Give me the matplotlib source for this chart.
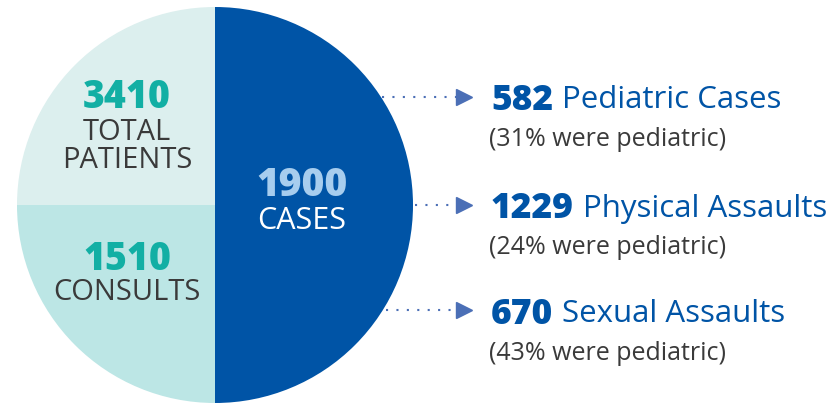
import matplotlib
matplotlib.use('Agg')
import matplotlib.pyplot as plt
from matplotlib.patches import Wedge

# data
total_patients = 3410
consults = 1510
cases = 1900
case_counts = [582, 1229, 670]
case_labels = ['Pediatric Cases', 'Physical Assaults', 'Sexual Assaults']
pediatric_pct = [31, 24, 43]

# colours
TOP_LEFT = '#dcefee'
BOTTOM_LEFT = '#bce6e5'
RIGHT = '#0054a6'
TEAL = '#12afa4'
LIGHT_BLUE = '#a7cdee'
GRAY = '#3a3a3a'
ARROW = '#4b6fb6'

plt.rcParams['font.family'] = ['Open Sans', 'DejaVu Sans']

fig = plt.figure(figsize=(8.37, 4.04), dpi=100)
ax = fig.add_axes([0, 0, 1, 1])
ax.set_xlim(0, 837)
ax.set_ylim(404, 0)
ax.axis('off')

# circle split in three parts
cx, cy, r = 215, 205, 198
ax.add_patch(Wedge((cx, cy), r, 180, 270, color=TOP_LEFT, lw=0))
ax.add_patch(Wedge((cx, cy), r, 90, 180, color=BOTTOM_LEFT, lw=0))
ax.add_patch(Wedge((cx, cy), r, -90, 90, color=RIGHT, lw=0))

# texts in the circle
ax.text(127, 98, str(total_patients), color=TEAL, fontsize=27, fontweight='heavy',
        ha='center', va='center')
ax.text(127, 132, 'TOTAL', color=GRAY, fontsize=21, ha='center', va='center')
ax.text(127, 161, 'PATIENTS', color=GRAY, fontsize=21, ha='center', va='center')
ax.text(127, 259, str(consults), color=TEAL, fontsize=27, fontweight='heavy',
        ha='center', va='center')
ax.text(127, 293, 'CONSULTS', color=GRAY, fontsize=21, ha='center', va='center')
ax.text(302, 185, str(cases), color=LIGHT_BLUE, fontsize=28, fontweight='heavy',
        ha='center', va='center')
ax.text(302, 221, 'CASES', color='white', fontsize=22, ha='center', va='center')

# breakdown on the right
row_y = [97, 205, 310]
line_start = [382, 415, 386]
fig.canvas.draw()
renderer = fig.canvas.get_renderer()
for i in range(len(case_counts)):
    y = row_y[i]
    ax.plot([line_start[i], 462], [y, y], color=ARROW, lw=1.5,
            linestyle=(0, (1, 4)), solid_capstyle='round')
    ax.plot([464], [y], marker='>', color=ARROW, markersize=11, lw=0)
    num = ax.text(491, y, str(case_counts[i]), color=RIGHT, fontsize=25.5,
                  fontweight='heavy', ha='left', va='center_baseline')
    bb = num.get_window_extent(renderer)
    x_end = ax.transData.inverted().transform((bb.x1, 0))[0]
    ax.text(x_end + 9, y, case_labels[i], color=RIGHT, fontsize=22.5,
            ha='left', va='center_baseline')
    ax.text(489, y + 40, f'({pediatric_pct[i]}% were pediatric)', color=GRAY,
            fontsize=18, ha='left', va='center_baseline')

fig.savefig('out.png', dpi=100)
